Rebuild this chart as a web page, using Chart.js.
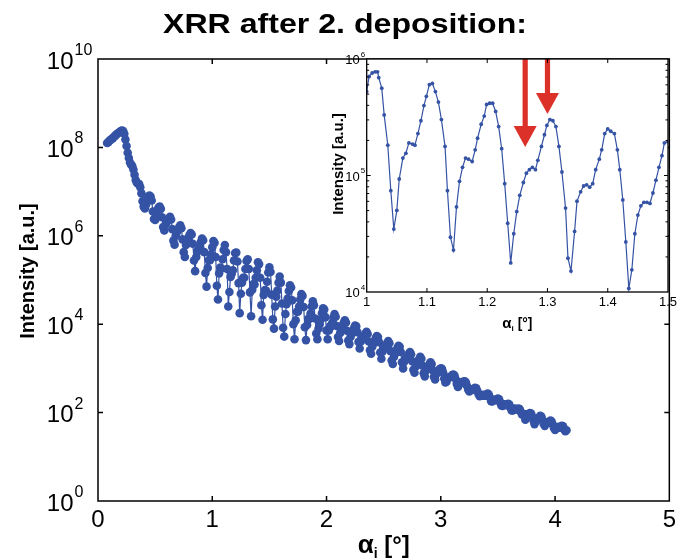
<!DOCTYPE html>
<html>
<head>
<meta charset="utf-8">
<script src="https://cdn.jsdelivr.net/npm/chart.js@4.4.1/dist/chart.umd.min.js"></script>
<style>
  html, body { margin: 0; padding: 0; background: #fff; }
  #wrap { position: relative; width: 681px; height: 558px; overflow: hidden; }
  #mainChart { position: absolute; left: 0; top: 0; }
  #insetChart { position: absolute; left: 300px; top: 40px; }
</style>
</head>
<body>
<div id="wrap">
  <canvas id="mainChart" width="681" height="558"></canvas>
  <canvas id="insetChart" width="381" height="300"></canvas>
</div>
<script>
(function () {
  const FONT = "'Liberation Sans', Arial, Helvetica, sans-serif";
  const BLUE = "#3553a5";
  const RED = "#dc3129";

  const TITLE = "XRR after 2. deposition:";
  const Y_TITLE = "Intensity [a.u.]";

  // main plot: incidence angle [deg] and log10 of intensity
  const mainAlpha = [
    0.08, 0.09,
    0.10, 0.11, 0.12, 0.13, 0.14, 0.15, 0.16, 0.17, 0.18, 0.19,
    0.20, 0.21, 0.22, 0.23, 0.24, 0.25, 0.26, 0.27, 0.28, 0.29,
    0.30, 0.31, 0.32, 0.33, 0.34, 0.35, 0.36, 0.37, 0.38, 0.39,
    0.40, 0.41, 0.42, 0.43, 0.44, 0.45, 0.46, 0.47, 0.48, 0.49,
    0.50, 0.51, 0.52, 0.53, 0.54, 0.55, 0.56, 0.57, 0.58, 0.59,
    0.60, 0.61, 0.62, 0.63, 0.64, 0.65, 0.66, 0.67, 0.68, 0.69,
    0.70, 0.71, 0.72, 0.73, 0.74, 0.75, 0.76, 0.77, 0.78, 0.79,
    0.80, 0.81, 0.82, 0.83, 0.84, 0.85, 0.86, 0.87, 0.88, 0.89,
    0.90, 0.91, 0.92, 0.93, 0.94, 0.95, 0.96, 0.97, 0.98, 0.99,
    1.00, 1.01, 1.02, 1.03, 1.04, 1.05, 1.06, 1.07, 1.08, 1.09,
    1.10, 1.11, 1.12, 1.13, 1.14, 1.15, 1.16, 1.17, 1.18, 1.19,
    1.20, 1.21, 1.22, 1.23, 1.24, 1.25, 1.26, 1.27, 1.28, 1.29,
    1.30, 1.31, 1.32, 1.33, 1.34, 1.35, 1.36, 1.37, 1.38, 1.39,
    1.40, 1.41, 1.42, 1.43, 1.44, 1.45, 1.46, 1.47, 1.48, 1.49,
    1.50, 1.51, 1.52, 1.53, 1.54, 1.55, 1.56, 1.57, 1.58, 1.59,
    1.60, 1.61, 1.62, 1.63, 1.64, 1.65, 1.66, 1.67, 1.68, 1.69,
    1.70, 1.71, 1.72, 1.73, 1.74, 1.75, 1.76, 1.77, 1.78, 1.79,
    1.80, 1.81, 1.82, 1.83, 1.84, 1.85, 1.86, 1.87, 1.88, 1.89,
    1.90, 1.91, 1.92, 1.93, 1.94, 1.95, 1.96, 1.97, 1.98, 1.99,
    2.00, 2.01, 2.02, 2.03, 2.04, 2.05, 2.06, 2.07, 2.08, 2.09,
    2.10, 2.11, 2.12, 2.13, 2.14, 2.15, 2.16, 2.17, 2.18, 2.19,
    2.20, 2.21, 2.22, 2.23, 2.24, 2.25, 2.26, 2.27, 2.28, 2.29,
    2.30, 2.31, 2.32, 2.33, 2.34, 2.35, 2.36, 2.37, 2.38, 2.39,
    2.40, 2.41, 2.42, 2.43, 2.44, 2.45, 2.46, 2.47, 2.48, 2.49,
    2.50, 2.51, 2.52, 2.53, 2.54, 2.55, 2.56, 2.57, 2.58, 2.59,
    2.60, 2.61, 2.62, 2.63, 2.64, 2.65, 2.66, 2.67, 2.68, 2.69,
    2.70, 2.71, 2.72, 2.73, 2.74, 2.75, 2.76, 2.77, 2.78, 2.79,
    2.80, 2.81, 2.82, 2.83, 2.84, 2.85, 2.86, 2.87, 2.88, 2.89,
    2.90, 2.91, 2.92, 2.93, 2.94, 2.95, 2.96, 2.97, 2.98, 2.99,
    3.00, 3.01, 3.02, 3.03, 3.04, 3.05, 3.06, 3.07, 3.08, 3.09,
    3.10, 3.11, 3.12, 3.13, 3.14, 3.15, 3.16, 3.17, 3.18, 3.19,
    3.20, 3.21, 3.22, 3.23, 3.24, 3.25, 3.26, 3.27, 3.28, 3.29,
    3.30, 3.31, 3.32, 3.33, 3.34, 3.35, 3.36, 3.37, 3.38, 3.39,
    3.40, 3.41, 3.42, 3.43, 3.44, 3.45, 3.46, 3.47, 3.48, 3.49,
    3.50, 3.51, 3.52, 3.53, 3.54, 3.55, 3.56, 3.57, 3.58, 3.59,
    3.60, 3.61, 3.62, 3.63, 3.64, 3.65, 3.66, 3.67, 3.68, 3.69,
    3.70, 3.71, 3.72, 3.73, 3.74, 3.75, 3.76, 3.77, 3.78, 3.79,
    3.80, 3.81, 3.82, 3.83, 3.84, 3.85, 3.86, 3.87, 3.88, 3.89,
    3.90, 3.91, 3.92, 3.93, 3.94, 3.95, 3.96, 3.97, 3.98, 3.99,
    4.00, 4.01, 4.02, 4.03, 4.04, 4.05, 4.06, 4.07, 4.08, 4.09,
    4.10,
  ];
  const mainLogI = [
    8.10, 8.12,
    8.15, 8.17, 8.19, 8.21, 8.24, 8.26, 8.29, 8.31, 8.33, 8.35,
    8.37, 8.38, 8.37, 8.31, 8.18, 8.03, 7.88, 7.76, 7.66, 7.61,
    7.58, 7.50, 7.38, 7.26, 7.20, 7.18, 7.17, 7.10, 6.96, 6.78,
    6.66, 6.62, 6.70, 6.82, 6.88, 6.91, 6.89, 6.80, 6.55, 6.38,
    6.36, 6.48, 6.58, 6.64, 6.66, 6.61, 6.42, 6.20, 6.12, 6.25,
    6.30, 6.34, 6.39, 6.43, 6.37, 6.15, 5.89, 5.80, 6.00, 6.08,
    6.13, 6.19, 6.24, 6.17, 5.92, 5.63, 5.52, 5.79, 5.90, 5.95,
    6.01, 6.06, 6.03, 5.82, 5.44, 5.20, 5.52, 5.66, 5.66, 5.74,
    5.86, 5.94, 5.90, 5.63, 5.16, 4.85, 5.27, 5.45, 5.45, 5.58,
    5.74, 5.88, 5.84, 5.52, 4.87, 4.56, 5.15, 5.28, 5.26, 5.47,
    5.68, 5.79, 5.63, 5.25, 4.40, 4.73, 5.07, 5.14, 5.22, 5.44,
    5.61, 5.62, 5.42, 4.93, 4.25, 4.69, 4.94, 5.05, 5.05, 5.25,
    5.43, 5.47, 5.25, 4.72, 4.18, 4.78, 4.91, 4.90, 5.05, 5.22,
    5.40, 5.36, 5.05, 4.43, 4.10, 4.66, 4.77, 4.76, 4.96, 5.17,
    5.29, 5.18, 4.67, 4.11, 3.90, 4.40, 4.62, 4.76, 4.94, 5.08,
    4.94, 4.47, 3.92, 3.72, 4.23, 4.45, 4.58, 4.75, 4.88, 4.83,
    4.54, 4.00, 3.66, 4.09, 4.28, 4.28, 4.40, 4.56, 4.68, 4.64,
    4.39, 3.93, 3.64, 3.98, 4.12, 4.12, 4.24, 4.40, 4.52, 4.43,
    4.13, 3.79, 3.66, 3.90, 4.00, 4.11, 4.25, 4.36, 4.33, 4.16,
    3.86, 3.66, 3.86, 3.95, 3.95, 4.03, 4.15, 4.23, 4.17, 3.96,
    3.71, 3.62, 3.80, 3.88, 3.94, 4.03, 4.09, 4.04, 3.85, 3.63,
    3.55, 3.71, 3.78, 3.84, 3.91, 3.97, 3.95, 3.82, 3.60, 3.45,
    3.61, 3.68, 3.68, 3.73, 3.79, 3.83, 3.78, 3.61, 3.41, 3.33,
    3.49, 3.56, 3.61, 3.68, 3.73, 3.71, 3.59, 3.36, 3.22, 3.38,
    3.45, 3.45, 3.50, 3.57, 3.62, 3.57, 3.39, 3.18, 3.10, 3.26,
    3.33, 3.38, 3.46, 3.51, 3.49, 3.37, 3.14, 3.00, 3.15, 3.22,
    3.22, 3.27, 3.33, 3.37, 3.32, 3.16, 2.97, 2.90, 3.04, 3.10,
    3.15, 3.21, 3.26, 3.22, 3.06, 2.89, 2.82, 2.95, 3.00, 3.04,
    3.10, 3.14, 3.10, 2.96, 2.81, 2.75, 2.87, 2.92, 2.94, 2.98,
    3.00, 2.99, 2.91, 2.77, 2.68, 2.70, 2.77, 2.80, 2.80, 2.82,
    2.85, 2.86, 2.84, 2.76, 2.65, 2.58, 2.63, 2.68, 2.68, 2.69,
    2.70, 2.71, 2.68, 2.60, 2.52, 2.48, 2.50, 2.52, 2.52, 2.54,
    2.56, 2.55, 2.49, 2.42, 2.37, 2.39, 2.39, 2.40, 2.38, 2.38,
    2.41, 2.43, 2.41, 2.34, 2.26, 2.25, 2.28, 2.29, 2.28, 2.30,
    2.32, 2.30, 2.23, 2.16, 2.15, 2.18, 2.19, 2.17, 2.18, 2.20,
    2.18, 2.11, 2.05, 2.05, 2.08, 2.09, 2.07, 2.07, 2.09, 2.08,
    2.02, 1.96, 1.95, 1.97, 1.84, 1.96, 1.95, 1.97, 1.99, 1.98,
    1.91, 1.83, 1.74, 1.80, 1.86, 1.85, 1.88, 1.93, 1.91, 1.84,
    1.75, 1.70, 1.75, 1.78, 1.77, 1.79, 1.82, 1.80, 1.73, 1.65,
    1.61, 1.64, 1.67, 1.68, 1.66, 1.68, 1.70, 1.69, 1.62, 1.58,
    1.60,
  ];

  // inset: zoom 1.0 - 1.5 deg
  const insetAlpha = [
    1.000, 1.004, 1.009, 1.014, 1.018, 1.020, 1.025, 1.029, 1.035, 1.040,
    1.045, 1.050, 1.054, 1.060, 1.065, 1.070, 1.076, 1.080, 1.085, 1.090,
    1.095, 1.099, 1.104, 1.109, 1.114, 1.119, 1.124, 1.130, 1.134, 1.139,
    1.144, 1.149, 1.154, 1.159, 1.164, 1.169, 1.175, 1.180, 1.184, 1.190,
    1.195, 1.199, 1.204, 1.209, 1.214, 1.219, 1.224, 1.229, 1.234, 1.239,
    1.244, 1.249, 1.254, 1.260, 1.265, 1.270, 1.275, 1.280, 1.284, 1.290,
    1.295, 1.299, 1.304, 1.309, 1.314, 1.319, 1.324, 1.330, 1.334, 1.339,
    1.345, 1.349, 1.355, 1.360, 1.365, 1.370, 1.375, 1.380, 1.386, 1.390,
    1.395, 1.400, 1.405, 1.411, 1.416, 1.420, 1.425, 1.430, 1.435, 1.440,
    1.445, 1.450, 1.455, 1.460, 1.465, 1.470, 1.475, 1.480, 1.485, 1.490,
    1.494, 1.500, 1.505,
  ];
  const insetLogI = [
    5.72, 5.85, 5.88, 5.89, 5.89, 5.84, 5.75, 5.52, 5.26, 4.87,
    4.54, 4.70, 4.97, 5.15, 5.19, 5.28, 5.27, 5.26, 5.36, 5.47,
    5.60, 5.68, 5.78, 5.79, 5.72, 5.63, 5.48, 5.25, 4.87, 4.47,
    4.36, 4.73, 4.95, 5.07, 5.15, 5.14, 5.12, 5.22, 5.32, 5.44,
    5.51, 5.61, 5.62, 5.62, 5.55, 5.42, 5.23, 4.93, 4.59, 4.25,
    4.50, 4.69, 4.83, 4.94, 5.02, 5.05, 5.07, 5.05, 5.13, 5.25,
    5.35, 5.43, 5.48, 5.47, 5.42, 5.25, 5.03, 4.72, 4.29, 4.18,
    4.52, 4.78, 4.86, 4.91, 4.92, 4.90, 4.93, 5.05, 5.14, 5.22,
    5.36, 5.40, 5.38, 5.36, 5.22, 5.05, 4.79, 4.43, 4.03, 4.19,
    4.50, 4.66, 4.74, 4.77, 4.77, 4.76, 4.85, 4.96, 5.07, 5.17,
    5.28, 5.29, 5.33,
  ];

  // red arrows in the inset: angle and log10 intensity of the tip
  const arrowAlpha = [1.263, 1.300];
  const arrowTipLogI = [5.245, 5.528];

  const mainXTicks = [0, 1, 2, 3, 4, 5];
  const mainYExp = [0, 2, 4, 6, 8, 10];
  const insetXTicks = [1, 1.1, 1.2, 1.3, 1.4, 1.5];
  const insetYExp = [4, 5, 6];

  const toPoints = (xs, logs) => xs.map((a, i) => ({ x: a, y: Math.pow(10, logs[i]) }));

  function drawPow(ctx, xRight, y, exp, base, sup) {
    ctx.fillStyle = "#000";
    ctx.textBaseline = "alphabetic";
    ctx.font = base + "px " + FONT;
    ctx.textAlign = "right";
    ctx.fillText("10", xRight, y + base * 0.4);
    ctx.font = sup + "px " + FONT;
    ctx.textAlign = "left";
    ctx.fillText(String(exp), xRight + 1, y - base * 0.17);
  }

  function drawAlphaLabel(ctx, cx, baseline, big, small) {
    const parts = [
      { t: "\u03b1", f: "bold " + big + "px " + FONT, dy: 0 },
      { t: "i", f: "bold " + small + "px " + FONT, dy: big * 0.18 },
      { t: " [\u00b0]", f: "bold " + big * 0.92 + "px " + FONT, dy: 0 },
    ];
    let w = 0;
    parts.forEach((p) => {
      ctx.font = p.f;
      p.w = ctx.measureText(p.t).width;
      w += p.w;
    });
    let x = cx - w / 2;
    ctx.textAlign = "left";
    ctx.textBaseline = "alphabetic";
    ctx.fillStyle = "#000";
    parts.forEach((p) => {
      ctx.font = p.f;
      ctx.fillText(p.t, x, baseline + p.dy);
      x += p.w;
    });
  }

  const mainFrame = {
    id: "mainFrame",
    afterDraw(chart) {
      const { ctx, chartArea: a, scales } = chart;
      const x = scales.x, y = scales.y;
      ctx.save();
      ctx.strokeStyle = "#000";
      ctx.lineWidth = 1.5;
      ctx.strokeRect(a.left, a.top, a.right - a.left, a.bottom - a.top);
      ctx.beginPath();
      mainXTicks.slice(1, -1).forEach((v) => {
        const px = x.getPixelForValue(v);
        ctx.moveTo(px, a.bottom); ctx.lineTo(px, a.bottom - 5);
        ctx.moveTo(px, a.top); ctx.lineTo(px, a.top + 5);
      });
      mainYExp.slice(1, -1).forEach((e) => {
        const py = y.getPixelForValue(Math.pow(10, e));
        ctx.moveTo(a.left, py); ctx.lineTo(a.left + 5, py);
        ctx.moveTo(a.right, py); ctx.lineTo(a.right - 5, py);
      });
      ctx.stroke();

      mainYExp.forEach((e) =>
        drawPow(ctx, a.left - 24.5, y.getPixelForValue(Math.pow(10, e)), e, 24, 16),
      );

      // axis titles
      ctx.save();
      ctx.translate(a.left - 70, 271);
      ctx.rotate(-Math.PI / 2);
      ctx.font = "bold 20px " + FONT;
      ctx.textAlign = "center";
      ctx.textBaseline = "middle";
      ctx.fillStyle = "#000";
      ctx.fillText(Y_TITLE, 0, 0);
      ctx.restore();
      drawAlphaLabel(ctx, (a.left + a.right) / 2, 553, 26, 14);

      // figure title, stretched a little like the original
      ctx.save();
      ctx.font = "bold 28px " + FONT;
      const tw = ctx.measureText(TITLE).width;
      ctx.translate(345, 33);
      ctx.scale(364 / tw, 1);
      ctx.textAlign = "center";
      ctx.textBaseline = "alphabetic";
      ctx.fillStyle = "#000";
      ctx.fillText(TITLE, 0, 0);
      ctx.restore();
      ctx.restore();
    },
  };

  const insetFrame = {
    id: "insetFrame",
    beforeDraw(chart) {
      const { ctx, chartArea: a } = chart;
      ctx.save();
      ctx.fillStyle = "#fff";
      ctx.fillRect(a.left, a.top, a.right - a.left, a.bottom - a.top);
      ctx.restore();
    },
    afterDraw(chart) {
      const { ctx, chartArea: a, scales } = chart;
      const x = scales.x, y = scales.y;
      ctx.save();

      // arrows
      ctx.fillStyle = RED;
      arrowAlpha.forEach((v, i) => {
        const px = x.getPixelForValue(v);
        const tip = y.getPixelForValue(Math.pow(10, arrowTipLogI[i]));
        const headLen = 21, headHalf = 11.5, shaftHalf = 2.6;
        ctx.fillRect(px - shaftHalf, a.top, shaftHalf * 2, tip - headLen - a.top + 1);
        ctx.beginPath();
        ctx.moveTo(px - headHalf, tip - headLen);
        ctx.lineTo(px + headHalf, tip - headLen);
        ctx.lineTo(px, tip);
        ctx.closePath();
        ctx.fill();
      });

      ctx.strokeStyle = "#000";
      ctx.lineWidth = 1.3;
      ctx.strokeRect(a.left, a.top, a.right - a.left, a.bottom - a.top);
      ctx.lineWidth = 1;
      ctx.beginPath();
      insetXTicks.slice(1, -1).forEach((v) => {
        const px = x.getPixelForValue(v);
        ctx.moveTo(px, a.bottom); ctx.lineTo(px, a.bottom - 4);
        ctx.moveTo(px, a.top); ctx.lineTo(px, a.top + 4);
      });
      insetYExp.slice(0, -1).forEach((e) => {
        for (let k = 2; k <= 10; k++) {
          const py = y.getPixelForValue(k * Math.pow(10, e));
          const len = k === 10 ? 4 : 2.5;
          if (k === 10 && e + 1 === insetYExp[insetYExp.length - 1]) continue;
          ctx.moveTo(a.left, py); ctx.lineTo(a.left + len, py);
          ctx.moveTo(a.right, py); ctx.lineTo(a.right - len, py);
        }
      });
      ctx.stroke();

      insetYExp.forEach((e) =>
        drawPow(ctx, a.left - 7, y.getPixelForValue(Math.pow(10, e)), e, 13, 8),
      );

      ctx.save();
      ctx.translate(a.left - 27.5, 124);
      ctx.rotate(-Math.PI / 2);
      ctx.font = "bold 15px " + FONT;
      ctx.textAlign = "center";
      ctx.textBaseline = "middle";
      ctx.fillStyle = "#000";
      ctx.fillText(Y_TITLE, 0, 0);
      ctx.restore();
      drawAlphaLabel(ctx, (a.left + a.right) / 2, 288, 15, 8);
      ctx.restore();
    },
  };

  new Chart(document.getElementById("mainChart"), {
    type: "scatter",
    data: {
      datasets: [
        {
          data: toPoints(mainAlpha, mainLogI),
          showLine: true,
          borderColor: BLUE,
          borderWidth: 1.2,
          pointRadius: 4.3,
          pointBackgroundColor: BLUE,
          pointBorderWidth: 0,
        },
      ],
    },
    options: {
      responsive: false,
      animation: false,
      layout: { padding: { left: 98, right: 9, top: 59, bottom: 0 } },
      plugins: { legend: { display: false }, tooltip: { enabled: false } },
      scales: {
        x: {
          type: "linear",
          min: 0,
          max: 5,
          afterBuildTicks: (s) => { s.ticks = mainXTicks.map((v) => ({ value: v })); },
          afterFit: (s) => { s.height = 57; },
          ticks: { color: "#000", font: { size: 24, family: FONT }, padding: 5, autoSkip: false, maxRotation: 0 },
          grid: { display: false, drawTicks: false },
          border: { display: false },
        },
        y: { type: "logarithmic", min: 1, max: 1e10, display: false },
      },
    },
    plugins: [mainFrame],
  });

  new Chart(document.getElementById("insetChart"), {
    type: "scatter",
    data: {
      datasets: [
        {
          data: toPoints(insetAlpha, insetLogI),
          showLine: true,
          borderColor: BLUE,
          borderWidth: 1.2,
          pointRadius: 1.9,
          pointBackgroundColor: BLUE,
          pointBorderWidth: 0,
          clip: 0,
        },
      ],
    },
    options: {
      responsive: false,
      animation: false,
      layout: { padding: { left: 66.7, right: 13, top: 19, bottom: 0 } },
      plugins: { legend: { display: false }, tooltip: { enabled: false } },
      scales: {
        x: {
          type: "linear",
          min: 1,
          max: 1.5,
          afterBuildTicks: (s) => { s.ticks = insetXTicks.map((v) => ({ value: v })); },
          afterFit: (s) => { s.height = 48; },
          ticks: {
            color: "#000",
            font: { size: 13, family: FONT },
            padding: 3,
            autoSkip: false,
            maxRotation: 0,
            callback: (v) => String(Number(v.toFixed(2))),
          },
          grid: { display: false, drawTicks: false },
          border: { display: false },
        },
        y: { type: "logarithmic", min: 1e4, max: 1e6, display: false },
      },
    },
    plugins: [insetFrame],
  });
})();
</script>
</body>
</html>
